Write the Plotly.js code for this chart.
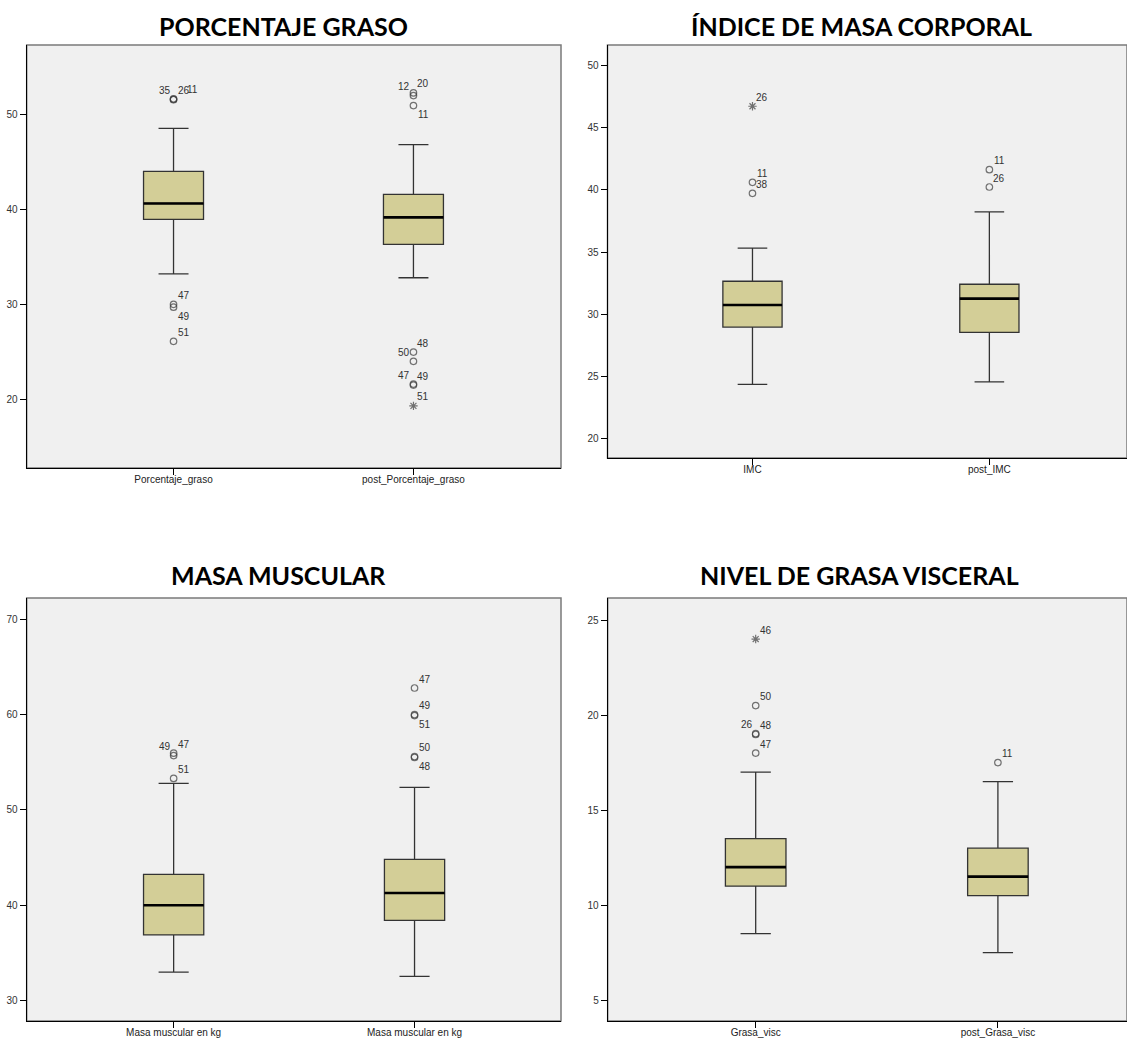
<!DOCTYPE html>
<html>
<head>
<meta charset="utf-8">
<script src="https://cdn.plot.ly/plotly-3.0.1.min.js"></script>
<style>html,body{margin:0;padding:0;background:#fff;}#chart{width:1127px;height:1039px;}</style>
</head>
<body>
<div id="chart"></div>
<script>
// ---------- DATA ----------
const titles = ['PORCENTAJE GRASO', 'ÍNDICE DE MASA CORPORAL', 'MASA MUSCULAR', 'NIVEL DE GRASA VISCERAL'];

// Panel 1: Porcentaje graso
const cats1 = ['Porcentaje_graso', 'post_Porcentaje_graso'];
const q1_1 = [38.95, 36.32];
const med1 = [40.63, 39.16];
const q3_1 = [44.0, 41.58];
const lo1 = [33.2, 32.8];
const hi1 = [48.53, 46.83];
const out1Cat = [0, 0, 0, 0, 0, 0, 1, 1, 1, 1, 1, 1, 1, 1];
const out1Val = [51.55, 51.6, 51.65, 30.0, 29.7, 26.1, 52.27, 51.99, 50.94, 24.97, 24.0, 21.6, 21.5, 19.3];
const out1Lab = ['35', '26', '11', '47', '49', '51', '20', '12', '11', '48', '50', '47', '49', '51'];
const out1Side = ['ul', 'ur', 'ur2', 'ur', 'lr', 'ur', 'ur', 'ul', 'lr', 'ur', 'ul', 'ul', 'ur', 'ur'];
const out1Sym = ['o', 'o', 'o', 'o', 'o', 'o', 'o', 'o', 'o', 'o', 'o', 'o', 'o', '*'];

// Panel 2: IMC
const cats2 = ['IMC', 'post_IMC'];
const q1_2 = [28.95, 28.52];
const med2 = [30.73, 31.24];
const q3_2 = [32.64, 32.4];
const lo2 = [24.33, 24.52];
const hi2 = [35.32, 38.23];
const out2Cat = [0, 0, 0, 1, 1];
const out2Val = [46.75, 40.62, 39.73, 41.64, 40.24];
const out2Lab = ['26', '11', '38', '11', '26'];
const out2Side = ['ur', 'ur', 'ur', 'ur', 'ur'];
const out2Sym = ['*', 'o', 'o', 'o', 'o'];

// Panel 3: Masa muscular
const cats3 = ['Masa muscular en kg', 'Masa muscular en kg'];
const q1_3 = [36.85, 38.39];
const med3 = [39.97, 41.26];
const q3_3 = [43.22, 44.79];
const lo3 = [32.94, 32.5];
const hi3 = [52.77, 52.35];
const out3Cat = [0, 0, 0, 1, 1, 1, 1, 1];
const out3Val = [55.95, 55.7, 53.3, 62.8, 60.0, 59.9, 55.6, 55.5];
const out3Lab = ['47', '49', '51', '47', '49', '51', '50', '48'];
const out3Side = ['ur', 'ul', 'ur', 'ur', 'ur', 'lr', 'ur', 'lr'];
const out3Sym = ['o', 'o', 'o', 'o', 'o', 'o', 'o', 'o'];

// Panel 4: Grasa visceral
const cats4 = ['Grasa_visc', 'post_Grasa_visc'];
const q1_4 = [11.0, 10.5];
const med4 = [12.0, 11.5];
const q3_4 = [13.5, 13.0];
const lo4 = [8.5, 7.5];
const hi4 = [17.0, 16.5];
const out4Cat = [0, 0, 0, 0, 0, 1];
const out4Val = [24.0, 20.5, 19.02, 18.98, 18.0, 17.5];
const out4Lab = ['46', '50', '26', '48', '47', '11'];
const out4Side = ['ur', 'ur', 'ul', 'ur', 'ur', 'ur'];
const out4Sym = ['*', 'o', 'o', 'o', 'o', 'o'];

// ---------- BUILD ----------
const W = 1127, H = 1039;
const panels = [
  {cats: cats1, q1: q1_1, med: med1, q3: q3_1, lo: lo1, hi: hi1, oc: out1Cat, ov: out1Val, ol: out1Lab, os: out1Side, osym: out1Sym,
   px: [26.7, 561], py: [45, 468], xr: [-0.612, 1.615], yr: [12.76, 57.32], dtick: 10, tx: 283, ty: 26},
  {cats: cats2, q1: q1_2, med: med2, q3: q3_2, lo: lo2, hi: hi2, oc: out2Cat, ov: out2Val, ol: out2Lab, os: out2Side, osym: out2Sym,
   px: [607.5, 1127], py: [45, 458], xr: [-0.612, 1.581], yr: [18.39, 51.69], dtick: 5, tx: 861, ty: 26},
  {cats: cats3, q1: q1_3, med: med3, q3: q3_3, lo: lo3, hi: hi3, oc: out3Cat, ov: out3Val, ol: out3Lab, os: out3Side, osym: out3Sym,
   px: [26.7, 561], py: [598, 1021], xr: [-0.61, 1.608], yr: [27.81, 72.26], dtick: 10, tx: 278, ty: 575},
  {cats: cats4, q1: q1_4, med: med4, q3: q3_4, lo: lo4, hi: hi4, oc: out4Cat, ov: out4Val, ol: out4Lab, os: out4Side, osym: out4Sym,
   px: [607.7, 1127], py: [598, 1021], xr: [-0.611, 1.533], yr: [3.906, 26.16], dtick: 5, tx: 860, ty: 575}
];

const traces = [];
const layout = {
  width: W, height: H,
  margin: {l: 0, r: 0, t: 0, b: 0},
  paper_bgcolor: '#ffffff',
  plot_bgcolor: '#f0f0f0',
  showlegend: false,
  boxmode: 'overlay',
  font: {family: 'Liberation Sans, Arial, sans-serif', size: 10, color: '#222'},
  annotations: [],
  shapes: []
};

const shiftMap = {ur: [10, 9], ul: [-9, 9], lr: [10, -9], ur2: [19, 9]};

panels.forEach((p, i) => {
  const n = i + 1;
  const xa = 'x' + (n === 1 ? '' : n), ya = 'y' + (n === 1 ? '' : n);
  const xk = 'xaxis' + (n === 1 ? '' : n), yk = 'yaxis' + (n === 1 ? '' : n);
  const idx = p.cats.map((c, k) => k);

  // main boxes
  traces.push({
    type: 'box', x: idx, q1: p.q1, median: p.med, q3: p.q3, lowerfence: p.lo, upperfence: p.hi,
    xaxis: xa, yaxis: ya, width: 0.25, whiskerwidth: 0.5, boxpoints: false,
    fillcolor: '#d3ce97', line: {color: '#333333', width: 1.3}, hoverinfo: 'skip'
  });
  // thick median overlay
  traces.push({
    type: 'box', x: idx, q1: p.med, median: p.med, q3: p.med, lowerfence: p.med, upperfence: p.med,
    xaxis: xa, yaxis: ya, width: 0.25, whiskerwidth: 0, boxpoints: false,
    fillcolor: 'rgba(0,0,0,0)', line: {color: '#000000', width: 2.6}, hoverinfo: 'skip'
  });
  // outliers
  traces.push({
    type: 'scatter', mode: 'markers', xaxis: xa, yaxis: ya,
    x: p.oc, y: p.ov,
    marker: {
      symbol: p.osym.map(s => s === '*' ? 'asterisk-open' : 'circle-open'),
      size: p.osym.map(s => s === '*' ? 7 : 6.5),
      color: '#3a3a3a', line: {color: '#3a3a3a', width: 1.2}
    },
    hoverinfo: 'skip'
  });
  p.oc.forEach((c, k) => {
    const sh = shiftMap[p.os[k]];
    layout.annotations.push({
      xref: xa, yref: ya, x: c, y: p.ov[k], text: p.ol[k], showarrow: false,
      xshift: sh[0], yshift: sh[1], xanchor: 'center', yanchor: 'middle',
      font: {family: 'Liberation Sans, Arial, sans-serif', size: 10, color: '#333'}
    });
  });

  layout[xk] = {
    domain: [p.px[0] / W, Math.min(1, p.px[1] / W)],
    anchor: ya, range: p.xr, tickvals: idx, ticktext: p.cats,
    showgrid: false, zeroline: false, showline: true, linecolor: '#000', linewidth: 1,
    ticks: 'outside', ticklen: 6, tickcolor: '#000', tickwidth: 1, ticklabelstandoff: -4,
    tickfont: {family: 'Liberation Sans, Arial, sans-serif', size: 10, color: '#222'}, fixedrange: true
  };
  const tv = [];
  for (let v = Math.ceil(p.yr[0] / p.dtick) * p.dtick; v <= p.yr[1]; v += p.dtick) tv.push(v);
  layout[yk] = {
    domain: [1 - p.py[1] / H, 1 - p.py[0] / H],
    anchor: xa, range: p.yr, tickvals: tv,
    showgrid: false, zeroline: false, showline: true, linecolor: '#000', linewidth: 1,
    ticks: 'outside', ticklen: 6, tickcolor: '#000', tickwidth: 1, ticklabelstandoff: 0,
    tickfont: {family: 'Liberation Sans, Arial, sans-serif', size: 10, color: '#333'}, fixedrange: true
  };
  layout.shapes.push({
    type: 'rect', xref: xa + ' domain', yref: ya + ' domain', x0: 0, x1: 1, y0: 0, y1: 1,
    line: {color: '#7a7a7a', width: 1.5}, fillcolor: 'rgba(0,0,0,0)', layer: 'below'
  });
  layout.annotations.push({
    xref: 'paper', yref: 'paper', x: p.tx / W, y: 1 - p.ty / H, text: '<b>' + titles[i] + '</b>',
    showarrow: false, xanchor: 'center', yanchor: 'middle',
    font: {family: 'Lato, Open Sans, sans-serif', size: 25, color: '#000'}
  });
});

Plotly.newPlot('chart', traces, layout, {displayModeBar: false, staticPlot: true});
</script>
</body>
</html>
